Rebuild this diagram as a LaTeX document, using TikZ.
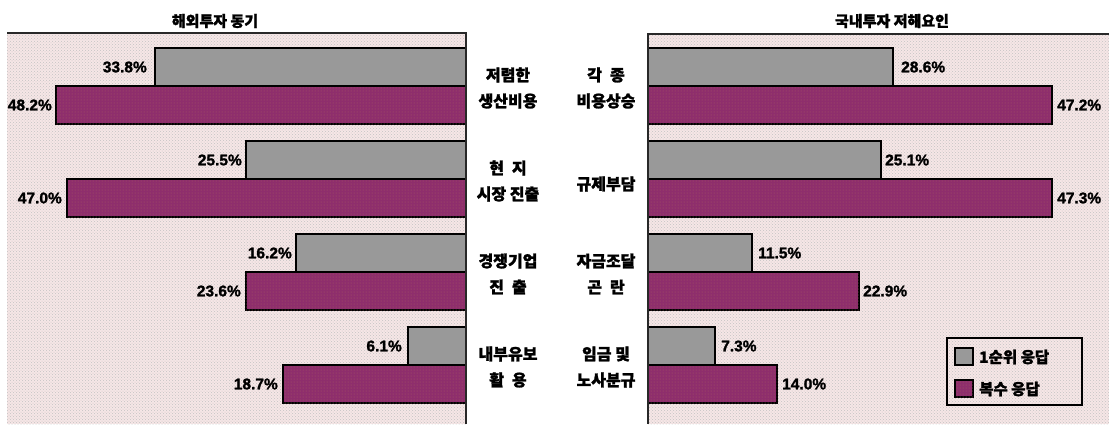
\documentclass[tikz,border=0pt]{standalone}
\usepackage{fontspec}
\setmainfont{Liberation Sans}[BoldFeatures={FakeBold=1.5}]
\newfontfamily\kr{Noto Sans CJK KR}[BoldFeatures={FakeBold=1.5}]
\usetikzlibrary{patterns}
\definecolor{bgpink}{RGB}{246,230,230}
\definecolor{dotgray}{RGB}{195,195,195}
\definecolor{bargray}{RGB}{153,153,153}
\definecolor{barmag}{RGB}{142,46,108}
\definecolor{magdot}{RGB}{168,92,98}
\definecolor{framecol}{RGB}{40,40,40}
\tikzset{
  panelbg/.style={fill=bgpink, postaction={pattern=crosshatch dots, pattern color=dotgray}},
  gbar/.style={draw=black, line width=1.6pt, fill=bargray},
  mbar/.style={draw=black, line width=1.6pt, fill=barmag, postaction={pattern=dots, pattern color=magdot}},
  frameln/.style={draw=framecol, line width=1.5pt},
  pct/.style={inner sep=1pt, font=\bfseries\fontsize{15.5}{15.5}\selectfont},
  cat/.style={inner sep=0pt, align=center, font=\kr\bfseries\fontsize{16}{26}\selectfont},
  ttl/.style={inner sep=0pt, font=\kr\bfseries\fontsize{15}{15}\selectfont},
  leg/.style={inner sep=0pt, anchor=west, font=\kr\bfseries\fontsize{15.5}{15.5}\selectfont},
}
\newcommand{\gsp}{\hspace{0.5em}}
\begin{document}
\begin{tikzpicture}[x=1pt,y=-1pt]
\useasboundingbox (0,0) rectangle (1109,424);
\fill[white] (0,0) rectangle (1109,424);
% panels
\path[panelbg] (7,33) rectangle (466,424);
\path[panelbg] (648,34) rectangle (1109,424);
% titles
\node[ttl] (t1) at (215,21) {해외투자 동기};
\node[ttl] (t2) at (892,21) {국내투자 저해요인};
% left bars (gray top..top+38, magenta top+38..top+76)
\draw[gbar] (155,48) rectangle (466,86);
\draw[mbar] (56,86) rectangle (466,124);
\draw[gbar] (246,141) rectangle (466,179);
\draw[mbar] (67,179) rectangle (466,217);
\draw[gbar] (296,234) rectangle (466,272);
\draw[mbar] (246,272) rectangle (466,310);
\draw[gbar] (408,327) rectangle (466,365);
\draw[mbar] (283,365) rectangle (466,403);
% right bars
\draw[gbar] (648,48) rectangle (893,86);
\draw[mbar] (648,86) rectangle (1052,124);
\draw[gbar] (648,141) rectangle (881,179);
\draw[mbar] (648,179) rectangle (1052,217);
\draw[gbar] (648,234) rectangle (752,272);
\draw[mbar] (648,272) rectangle (859,310);
\draw[gbar] (648,327) rectangle (715,365);
\draw[mbar] (648,365) rectangle (777,403);
% frame lines
\draw[frameln] (7,33) -- (466,33) -- (466,424);
\draw[frameln] (1109,34) -- (648,34) -- (648,424);
% left value labels
\node[pct, anchor=east] (l1g) at (148,67) {33.8\%};
\node[pct, anchor=east] (l1m) at (53,105) {48.2\%};
\node[pct, anchor=east] (l2g) at (243,160) {25.5\%};
\node[pct, anchor=east] (l2m) at (63,198) {47.0\%};
\node[pct, anchor=east] (l3g) at (293,253) {16.2\%};
\node[pct, anchor=east] (l3m) at (242,291) {23.6\%};
\node[pct, anchor=east] (l4g) at (403,346) {6.1\%};
\node[pct, anchor=east] (l4m) at (279,384) {18.7\%};
% right value labels
\node[pct, anchor=west] (r1g) at (900,67) {28.6\%};
\node[pct, anchor=west] (r1m) at (1056,105) {47.2\%};
\node[pct, anchor=west] (r2g) at (884,160) {25.1\%};
\node[pct, anchor=west] (r2m) at (1056,198) {47.3\%};
\node[pct, anchor=west] (r3g) at (757,253) {11.5\%};
\node[pct, anchor=west] (r3m) at (862,291) {22.9\%};
\node[pct, anchor=west] (r4g) at (720,346) {7.3\%};
\node[pct, anchor=west] (r4m) at (781,384) {14.0\%};
% category labels
\node[cat] (c1) at (508,88) {저렴한\\생산비용};
\node[cat] (c2) at (508,181) {현\gsp 지\\시장 진출};
\node[cat] (c3) at (508,274) {경쟁기업\\진\gsp 출};
\node[cat] (c4) at (508,367) {내부유보\\활\gsp 용};
\node[cat] (d1) at (606,88) {각\gsp 종\\비용상승};
\node[cat] (d2) at (606,184) {규제부담};
\node[cat] (d3) at (606,274) {자금조달\\곤\gsp 란};
\node[cat] (d4) at (606,367) {임금 및\\노사분규};
% legend
\draw[draw=black, line width=1.2pt] (947,338) rectangle (1082,405);
\draw[gbar, line width=1.2pt] (955,348) rectangle (973,365);
\draw[mbar, line width=1.2pt] (955,380) rectangle (973,397);
\node[leg] (g1) at (979,357) {1순위 응답};
\node[leg] (g2) at (979,389) {복수 응답};
\end{tikzpicture}
\end{document}
